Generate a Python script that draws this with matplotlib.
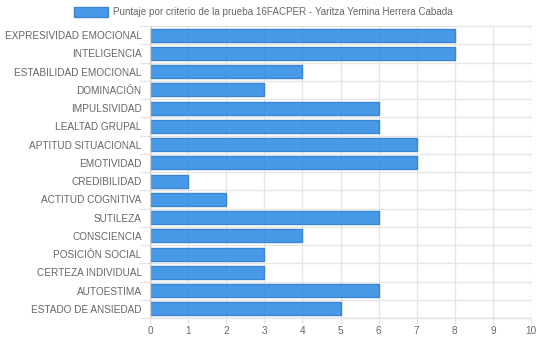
import matplotlib
matplotlib.use("Agg")
import matplotlib.pyplot as plt
import numpy as np

plt.rcParams['font.family'] = ['Liberation Sans', 'DejaVu Sans']

categories = [
    "EXPRESIVIDAD EMOCIONAL", "INTELIGENCIA", "ESTABILIDAD EMOCIONAL", "DOMINACIÓN",
    "IMPULSIVIDAD", "LEALTAD GRUPAL", "APTITUD SITUACIONAL", "EMOTIVIDAD",
    "CREDIBILIDAD", "ACTITUD COGNITIVA", "SUTILEZA", "CONSCIENCIA",
    "POSICIÓN SOCIAL", "CERTEZA INDIVIDUAL", "AUTOESTIMA", "ESTADO DE ANSIEDAD",
]
scores = [8, 8, 4, 3, 6, 6, 7, 7, 1, 2, 6, 4, 3, 3, 6, 5]
x_ticks = list(range(0, 11))
legend_label = "Puntaje por criterio de la prueba 16FACPER - Yaritza Yemina Herrera Cabada"

text_color = '#666666'
grid_color = '#e6e6e6'
bar_fill = (40 / 255, 135 / 255, 228 / 255, 0.85)
bar_edge = '#3a86d4'

fig = plt.figure(figsize=(5.4, 3.41), dpi=100)
ax = fig.add_axes([150 / 540, 1 - 318 / 341, 381 / 540, 292 / 341])

n = len(categories)
ypos = np.arange(n)
ax.barh(ypos, scores, height=0.72, color=bar_fill, edgecolor=bar_edge,
        linewidth=1, zorder=2, label=legend_label)

ax.set_xlim(0, 10)
ax.set_ylim(n - 0.5, -0.5)
ax.set_xticks(x_ticks)
ax.set_yticks(ypos)
ax.set_yticklabels(categories)

# grid: vertical at ticks, horizontal at category boundaries
for x in x_ticks:
  ax.plot([x, x], [n - 0.5, -0.5], color=grid_color, lw=1, zorder=1)
for b in np.arange(-0.5, n, 1.0):
  ax.plot([0, 10], [b, b], color=grid_color, lw=1, zorder=1, clip_on=False)
  ax.plot([-10 / 38.1, 0], [b, b], color=grid_color, lw=1, zorder=1, clip_on=False)
for x in x_ticks:
  ax.plot([x, x], [n - 0.5, n - 0.5 + 5 / 18.25], color=grid_color, lw=1, zorder=1, clip_on=False)

for s in ax.spines.values():
  s.set_visible(False)
ax.plot([0, 0], [n - 0.5, -0.5], color='#cccccc', lw=1, zorder=3)
ax.plot([0, 10], [n - 0.5, n - 0.5], color='#cccccc', lw=1, zorder=3)

ax.tick_params(axis='both', length=0, labelsize=7.2, labelcolor=text_color)
ax.tick_params(axis='y', pad=6)
ax.tick_params(axis='x', pad=6)

fig.legend(loc='upper center', bbox_to_anchor=(0.488, 1.0), frameon=False,
           fontsize=7.1, labelcolor=text_color, handlelength=3.4, handleheight=1.1,
           handletextpad=0.6, borderaxespad=0.35)

fig.savefig("out.png", dpi=100)
